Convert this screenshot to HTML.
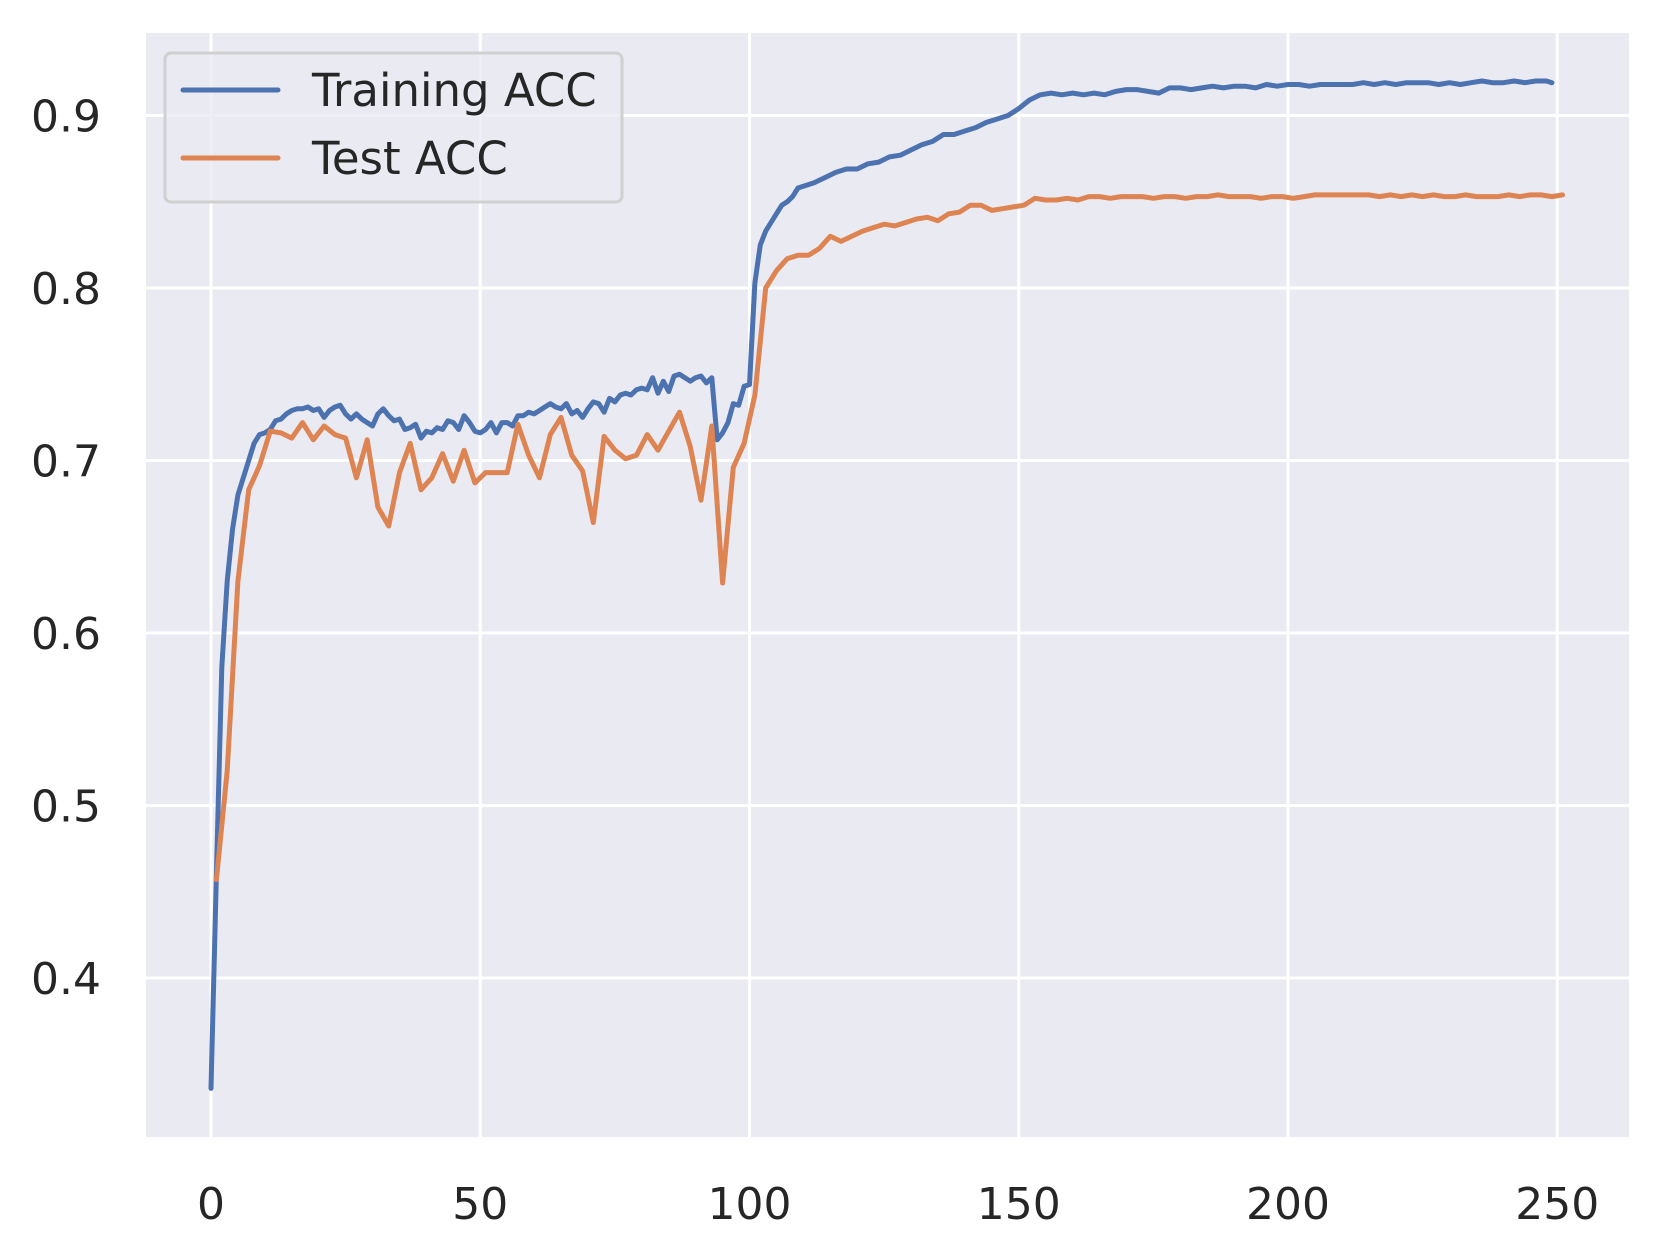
<!DOCTYPE html>
<html><head><meta charset="utf-8"><style>
html,body{margin:0;padding:0;background:#fff;}
svg{display:block;font-family:"DejaVu Sans","Liberation Sans",sans-serif;}
</style></head><body>
<svg id="chart" width="1660" height="1253" viewBox="0 0 1660 1253" xmlns="http://www.w3.org/2000/svg">
<rect x="0" y="0" width="1660" height="1253" fill="#ffffff"/>
<rect x="146" y="33" width="1483" height="1104" fill="#eaeaf2"/>
<g id="grid"></g>
<g id="ticks" fill="#262626" font-size="44"></g>
<g id="series"></g>
<g>
  <rect x="165" y="53" width="457" height="149" rx="6" fill="#eaeaf2" fill-opacity="0.8" stroke="#d0d0d0" stroke-width="3"/>
  <line x1="183" y1="90" x2="278" y2="90" stroke="#4c72b0" stroke-width="5" stroke-linecap="round"/>
  <text x="312" y="106" font-size="45" fill="#262626">Training ACC</text>
  <line x1="183" y1="158" x2="278" y2="158" stroke="#dd8452" stroke-width="5" stroke-linecap="round"/>
  <text x="312" y="174" font-size="45" fill="#262626">Test ACC</text>
</g>
</svg>
<script>
const xTicks = [0, 50, 100, 150, 200, 250];
const yTicks = [0.4, 0.5, 0.6, 0.7, 0.8, 0.9];
const yTickLabels = ["0.4", "0.5", "0.6", "0.7", "0.8", "0.9"];
const trainAcc = [
0.336,0.46,0.58,0.63,0.66,0.68,0.69,0.70,0.71,0.715,
0.716,0.718,0.723,0.724,0.727,0.729,0.73,0.73,0.731,0.729,
0.73,0.725,0.729,0.731,0.732,0.727,0.724,0.727,0.724,0.722,
0.72,0.727,0.73,0.726,0.723,0.724,0.718,0.719,0.721,0.713,
0.717,0.716,0.719,0.718,0.723,0.722,0.718,0.726,0.722,0.717,
0.716,0.718,0.722,0.716,0.722,0.722,0.72,0.726,0.726,0.728,
0.727,0.729,0.731,0.733,0.731,0.73,0.733,0.727,0.729,0.725,
0.73,0.734,0.733,0.728,0.736,0.734,0.738,0.739,0.738,0.741,
0.742,0.741,0.748,0.739,0.746,0.74,0.749,0.75,0.748,0.746,
0.748,0.749,0.745,0.748,0.712,0.716,0.722,0.733,0.732,0.743,
0.744,0.803,0.825,0.833,0.838,0.843,0.848,0.85,0.853,0.858,
0.859,0.861,0.864,0.867,0.869,0.869,0.872,0.873,0.876,0.877,
0.88,0.883,0.885,0.889,0.889,0.891,0.893,0.896,0.898,0.9,
0.904,0.909,0.912,0.913,0.912,0.913,0.912,0.913,0.912,0.914,
0.915,0.915,0.914,0.913,0.916,0.916,0.915,0.916,0.917,0.916,
0.917,0.917,0.916,0.918,0.917,0.918,0.918,0.917,0.918,0.918,
0.918,0.918,0.919,0.918,0.919,0.918,0.919,0.919,0.919,0.918,
0.919,0.918,0.919,0.92,0.919,0.919,0.92,0.919,0.92,0.92,
0.919];
const testAcc = [
0.457,0.52,0.63,0.683,0.697,0.717,0.716,0.713,0.722,0.712,
0.72,0.715,0.713,0.69,0.712,0.673,0.662,0.693,0.71,0.683,
0.69,0.704,0.688,0.706,0.687,0.693,0.693,0.693,0.721,0.703,
0.69,0.715,0.725,0.703,0.694,0.664,0.714,0.706,0.701,0.703,
0.715,0.706,0.717,0.728,0.708,0.677,0.72,0.629,0.696,0.71,
0.738,
0.80,0.81,0.817,0.819,0.819,0.823,0.83,0.827,0.83,0.833,
0.835,0.837,0.836,0.838,0.84,0.841,0.839,0.843,0.844,0.848,
0.848,0.845,0.846,0.847,0.848,0.852,0.851,0.851,0.852,0.851,
0.853,0.853,0.852,0.853,0.853,0.853,0.852,0.853,0.853,0.852,
0.853,0.853,0.854,0.853,0.853,0.853,0.852,0.853,0.853,0.852,
0.853,0.854,0.854,0.854,0.854,0.854,0.854,0.853,0.854,0.853,
0.854,0.853,0.854,0.853,0.853,0.854,0.853,0.853,0.853,0.854,
0.853,0.854,0.854,0.853,0.854];

const trainEpochs = [];
for (let e = 0; e < 110; e++) trainEpochs.push(e);
for (let e = 110; e <= 248; e += 2) trainEpochs.push(e);
trainEpochs.push(249);
const testEpochs = [];
for (let i = 0; i < testAcc.length; i++) testEpochs.push(1 + 2 * i);

const X0 = 211, XS = 5.385;
const Y08 = 288, YS = 1725;
function xScale(v) { return X0 + v * XS; }
function yScale(v) { return Y08 - (v - 0.8) * YS; }

const NS = "http://www.w3.org/2000/svg";
const grid = document.getElementById('grid');
const ticks = document.getElementById('ticks');
const series = document.getElementById('series');

xTicks.forEach(t => {
  const l = document.createElementNS(NS, 'line');
  l.setAttribute('x1', xScale(t)); l.setAttribute('x2', xScale(t));
  l.setAttribute('y1', 33); l.setAttribute('y2', 1137);
  l.setAttribute('stroke', '#fff'); l.setAttribute('stroke-width', 3);
  
  
  grid.appendChild(l);
  const tx = document.createElementNS(NS, 'text');
  tx.setAttribute('x', xScale(t)); tx.setAttribute('y', 1219);
  tx.setAttribute('text-anchor', 'middle');
  tx.textContent = String(t);
  
  
  ticks.appendChild(tx);
});
yTicks.forEach((t, i) => {
  const l = document.createElementNS(NS, 'line');
  l.setAttribute('x1', 146); l.setAttribute('x2', 1629);
  l.setAttribute('y1', yScale(t)); l.setAttribute('y2', yScale(t));
  l.setAttribute('stroke', '#fff'); l.setAttribute('stroke-width', 3);
  
  
  grid.appendChild(l);
  const tx = document.createElementNS(NS, 'text');
  tx.setAttribute('x', 101); tx.setAttribute('y', yScale(t) + 16);
  tx.setAttribute('text-anchor', 'end');
  tx.textContent = yTickLabels[i];
  
  
  ticks.appendChild(tx);
});

function drawLine(xs, ys, color, name) {
  const n = Math.min(xs.length, ys.length);
  let d = '';
  for (let i = 0; i < n; i++) d += (i ? 'L' : 'M') + xScale(xs[i]).toFixed(1) + ',' + yScale(ys[i]).toFixed(1);
  const p = document.createElementNS(NS, 'path');
  p.setAttribute('d', d);
  p.setAttribute('fill', 'none');
  p.setAttribute('stroke', color);
  p.setAttribute('stroke-width', 5);
  p.setAttribute('stroke-linejoin', 'round');
  p.setAttribute('stroke-linecap', 'round');
  
  
  series.appendChild(p);
}
drawLine(trainEpochs, trainAcc, '#4c72b0', 'training-acc-line');
drawLine(testEpochs, testAcc, '#dd8452', 'test-acc-line');
</script>
</body></html>
